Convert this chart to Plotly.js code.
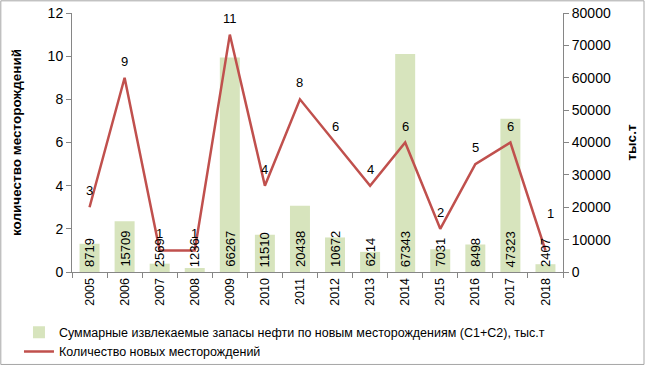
<!DOCTYPE html>
<html><head><meta charset="utf-8">
<script src="https://cdn.plot.ly/plotly-3.0.1.min.js"></script>
<style>html,body{margin:0;padding:0;background:#fff}#c{width:646px;height:366px}</style>
</head><body><div id="c"></div>
<script>
const years = [2005,2006,2007,2008,2009,2010,2011,2012,2013,2014,2015,2016,2017,2018];
const reserves = [8719,15709,2569,1236,66267,11510,20438,10672,6214,67343,7031,8498,47323,2407];
const fieldsCount = [3,9,1,1,11,4,8,6,4,6,2,5,6,1];
const barName = 'Суммарные извлекаемые запасы нефти по новым месторождениям (С1+С2), тыс.т';
const lineName = 'Количество новых месторождений';
const leftTitle = 'количество месторождений';
const rightTitle = 'тыс.т';

const font = 'Liberation Sans, Arial, sans-serif';
const traces = [
  {type:'bar', x:years, y:reserves, xaxis:'x', yaxis:'y', name:barName,
   marker:{color:'#d7e4bd'}, width:0.57},
  {type:'scatter', mode:'lines', x:years, y:fieldsCount, xaxis:'x', yaxis:'y2', name:lineName,
   line:{color:'#c0504d', width:2.5}, cliponaxis:false}
];
const barLabels = reserves.map((v,i)=>({x:years[i], y:0, xref:'x', yref:'y', text:String(v),
  textangle:270, showarrow:false, yanchor:'bottom', xanchor:'center', yshift:3,
  font:{family:font, size:13, color:'#000'}}));
const lastIdx = fieldsCount.length - 1;
const lineLabels = fieldsCount.map((v,i)=>({x:years[i], y:v, xref:'x', yref:'y2', text:String(v),
  showarrow:false, yanchor:'bottom', xanchor:'center',
  yshift: i === lastIdx ? 27 : 7, xshift: i === lastIdx ? 5 : 0,
  font:{family:font, size:13, color:'#000'}}));
const layout = {
  width:646, height:366, margin:{l:72, r:83, t:13, b:94, autoexpand:false},
  paper_bgcolor:'#fff', plot_bgcolor:'#fff', font:{family:font, size:13, color:'#000'},
  showlegend:true,
  legend:{x:-0.108, y:-0.176, xanchor:'left', yanchor:'top', orientation:'v', traceorder:'normal',
    font:{family:font, size:12.5, color:'#000'}, tracegroupgap:0, bgcolor:'rgba(0,0,0,0)'},
  xaxis:{type:'linear', range:[2004.5,2018.5], tickmode:'linear', tick0:2005, dtick:1,
    tickangle:-90, ticks:'', showline:true, linecolor:'#868686', showgrid:false, zeroline:false,
    tickfont:{family:font, size:12.5}, tickformat:'d',
    minor:{ticks:'outside', tick0:2004.5, dtick:1, ticklen:5, tickcolor:'#868686', showgrid:false}},
  yaxis:{range:[0,80000], dtick:10000, side:'right', ticks:'outside', ticklen:5,
    tickcolor:'#868686', showline:true, linecolor:'#868686', showgrid:false, zeroline:false,
    tickfont:{family:font, size:14}, tickformat:'d',
    title:{text:rightTitle, font:{family:font, size:13.5, color:'#000', weight:'bold'}, standoff:16}},
  yaxis2:{range:[0,12], dtick:2, overlaying:'y', side:'left', anchor:'x', ticks:'outside', ticklen:5,
    tickcolor:'#868686', showline:true, linecolor:'#868686', showgrid:false, zeroline:false,
    tickfont:{family:font, size:14},
    title:{text:leftTitle, font:{family:font, size:13.5, color:'#000', weight:'bold'}, standoff:22}},
  annotations:barLabels.concat(lineLabels),
  shapes:[{type:'rect', xref:'paper', yref:'paper', x0:-0.145, x1:1.165, y0:-0.357, y1:1.047,
    line:{color:'#a6a6a6', width:1}}]
};
Plotly.newPlot('c', traces, layout, {displayModeBar:false, staticPlot:true});
</script></body></html>
